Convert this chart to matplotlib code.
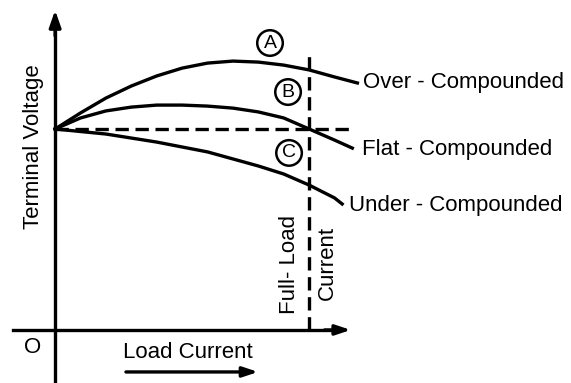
import numpy as np
import matplotlib
matplotlib.use("Agg")
import matplotlib.pyplot as plt

plt.rcParams['font.family'] = ['Liberation Sans', 'DejaVu Sans']

# load current as a fraction of full load
current = [0.0, 0.1, 0.2, 0.3, 0.4, 0.5, 0.6, 0.7, 0.8, 0.9, 1.0, 1.1, 1.19]
# terminal voltage, per unit of no-load voltage
over_v = [1.0, 1.08, 1.154, 1.214, 1.264, 1.303, 1.328, 1.338, 1.333, 1.318, 1.294, 1.259, 1.229]

flat_i = [0.0, 0.1, 0.2, 0.3, 0.4, 0.5, 0.6, 0.7, 0.8, 0.9, 1.0, 1.1, 1.17]
flat_v = [1.0, 1.055, 1.090, 1.109, 1.119, 1.119, 1.114, 1.104, 1.085, 1.055, 1.0, 0.945, 0.905]

under_i = [0.0, 0.2, 0.4, 0.6, 0.8, 0.9, 1.0, 1.1, 1.13]
under_v = [1.0, 0.975, 0.935, 0.886, 0.816, 0.776, 0.721, 0.657, 0.627]

full_load = 1.0
rated_v = 1.0

labels = ['Over - Compounded', 'Flat - Compounded', 'Under - Compounded']
label_pos = [(1.213, 1.229), (1.209, 0.90), (1.157, 0.62)]
letters = ['A', 'B', 'C']
letter_pos = [(0.846, 1.428), (0.917, 1.184), (0.921, 0.881)]

fig = plt.figure(figsize=(5.71, 3.83), dpi=100)
ax = fig.add_axes([0, 0, 1, 1])
ax.set_xlim(-0.217, 2.031)
ax.set_ylim(-0.264, 1.642)
ax.axis('off')

lw = 2.4
fs = 16
# axes with arrow heads
ax.plot([0, 0], [-0.264, 1.5], color='black', lw=lw)
ax.annotate('', xy=(0, 1.605), xytext=(0, 1.45),
            arrowprops=dict(arrowstyle='-|>,head_width=0.35,head_length=1.0',
                            color='black', lw=lw))
ax.plot([-0.165, 1.1], [0, 0], color='black', lw=lw)
ax.annotate('', xy=(1.175, 0), xytext=(1.05, 0),
            arrowprops=dict(arrowstyle='-|>,head_width=0.3,head_length=0.9',
                            color='black', lw=lw))

# characteristics
ax.plot(current, over_v, color='black', lw=lw)
ax.plot(flat_i, flat_v, color='black', lw=lw)
ax.plot(under_i, under_v, color='black', lw=lw)

# rated voltage and full-load current guides
ax.plot([0, 1.18], [rated_v, rated_v], color='black', lw=lw, ls=(0, (4, 2)))
ax.plot([full_load, full_load], [0, 1.393], color='black', lw=lw, ls=(0, (4, 2)))

for txt, (x, y) in zip(labels, label_pos):
    ax.text(x, y, txt, fontsize=fs, va='center', ha='left')

for txt, (x, y) in zip(letters, letter_pos):
    ax.text(x, y, txt, fontsize=14, va='center', ha='center',
            bbox=dict(boxstyle='circle,pad=0.22', fc='white', ec='black', lw=1.8))

ax.text(-0.087, 0.91, 'Terminal Voltage', rotation=90, fontsize=fs,
        va='center', ha='center')
ax.text(-0.087, -0.085, 'O', fontsize=fs, va='center', ha='center')
ax.text(0.524, -0.114, 'Load Current', fontsize=fs, va='center', ha='center')
ax.annotate('', xy=(0.81, -0.209), xytext=(0.268, -0.209),
            arrowprops=dict(arrowstyle='-|>,head_width=0.3,head_length=0.9',
                            color='black', lw=lw))

ax.text(0.921, 0.328, 'Full- Load', rotation=90, fontsize=fs,
        va='center', ha='center')
ax.text(1.071, 0.333, 'Current', rotation=90, fontsize=fs,
        va='center', ha='center')

fig.savefig('out.png', dpi=100, facecolor='white')
